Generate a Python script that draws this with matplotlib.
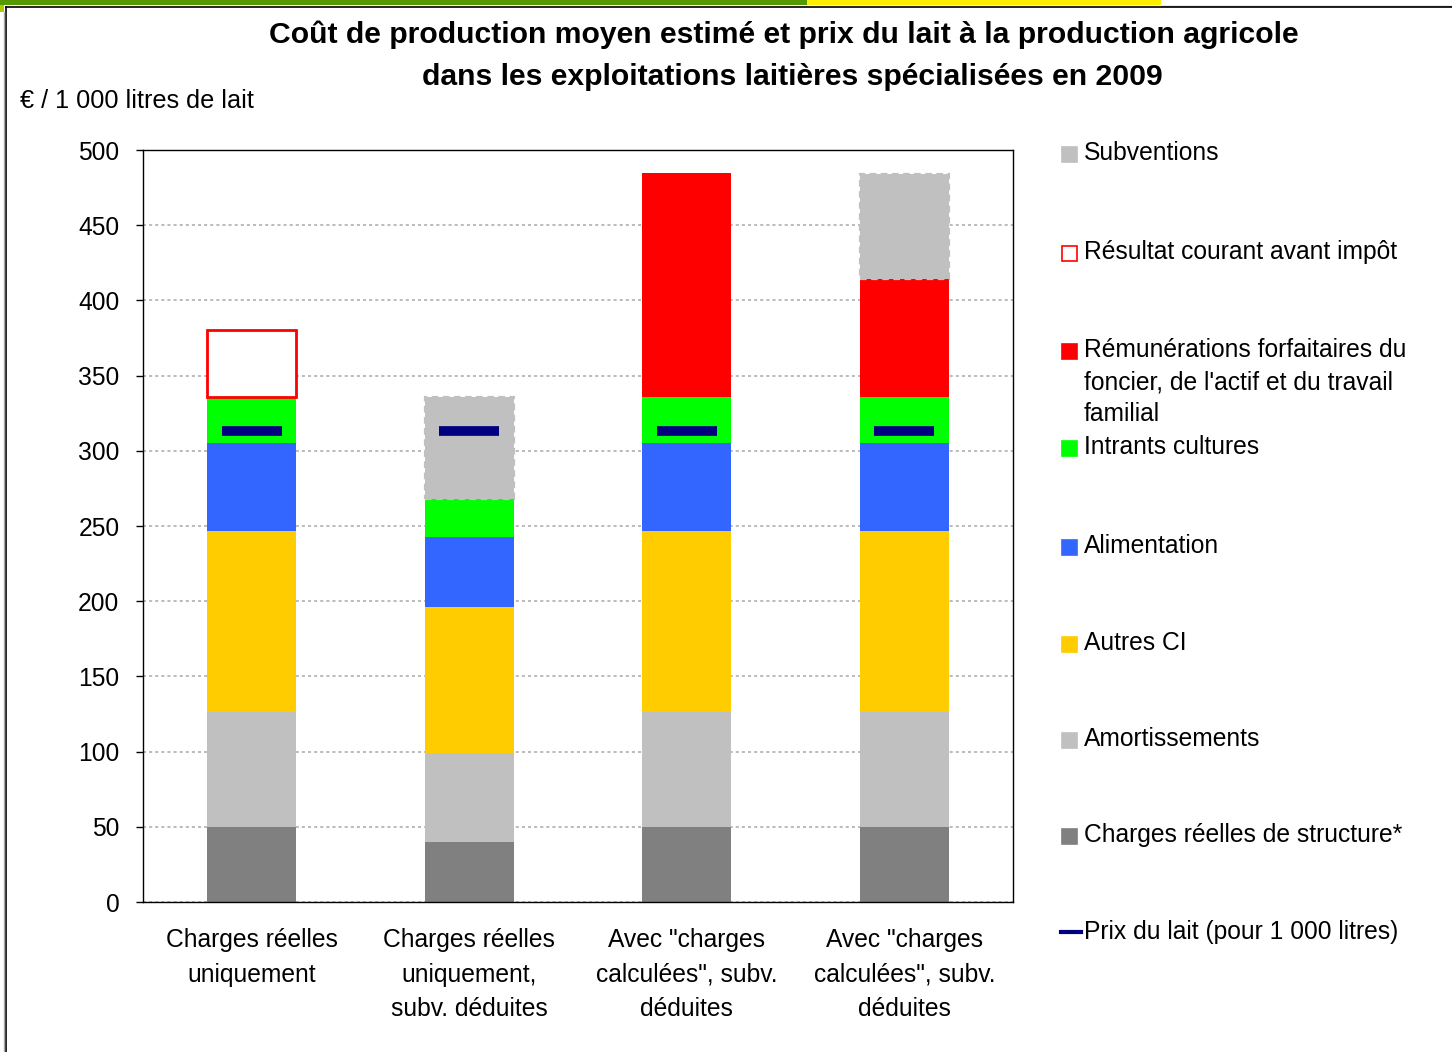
import matplotlib
matplotlib.use('Agg')
import matplotlib.pyplot as plt
from matplotlib.patches import Rectangle
from matplotlib.lines import Line2D
import numpy as np

plt.rcParams['font.family'] = ['Liberation Sans', 'DejaVu Sans']

# ---------------- data ----------------
categories = ['Charges réelles\nuniquement',
              'Charges réelles\nuniquement,\nsubv. déduites',
              'Avec "charges\ncalculées", subv.\ndéduites',
              'Avec "charges\ncalculées", subv.\ndéduites']
charges_structure = [50, 40, 50, 50]
amortissements = [76, 59, 76, 76]
autres_ci = [121, 97, 121, 121]
alimentation = [58, 47, 58, 58]
intrants_cultures = [31, 25, 31, 31]
remunerations = [0, 0, 149, 78]
resultat_courant = [44, 0, 0, 0]
subventions = [0, 68, 0, 70]
prix_lait = [313, 313, 313, 313]
y_ticks = [0, 50, 100, 150, 200, 250, 300, 350, 400, 450, 500]

legend_labels = ['Subventions', 'Résultat courant avant impôt',
                 'Rémunérations forfaitaires du\nfoncier, de l\'actif et du travail\nfamilial',
                 'Intrants cultures', 'Alimentation', 'Autres CI', 'Amortissements',
                 'Charges réelles de structure*', 'Prix du lait (pour 1 000 litres)']

# ---------------- styles ----------------
C_STRUCT = '#808080'
C_AMORT = '#C0C0C0'
C_AUTRES = '#FFCC00'
C_ALIM = '#3366FF'
C_INTR = '#00FF00'
C_REMU = '#FF0000'
C_SUBV = '#C0C0C0'
C_PRIX = '#000080'
FS = 17.7

W, H = 1452, 1052
fig = plt.figure(figsize=(W / 100, H / 100), dpi=100)
fig.patch.set_facecolor('white')

def fx(x):
    return x / W

def fy(y):
    return 1 - y / H

ax = fig.add_axes([fx(143), fy(902), fx(1013) - fx(143), fy(150) - fy(902)])

x = np.arange(len(categories))
bw = 0.41
bottom = np.zeros(len(categories))

layers = [
    (charges_structure, dict(color=C_STRUCT)),
    (amortissements, dict(color=C_AMORT)),
    (autres_ci, dict(color=C_AUTRES)),
    (alimentation, dict(color=C_ALIM)),
    (intrants_cultures, dict(color=C_INTR)),
]
for vals, kw in layers:
    ax.bar(x, vals, bw, bottom=bottom, linewidth=0, zorder=2, **kw)
    bottom = bottom + np.array(vals)

base_top = bottom.copy()
# Résultat courant avant impôt (outlined)
ax.bar(x, resultat_courant, bw, bottom=base_top, facecolor='white',
       edgecolor=[C_REMU if v > 0 else 'none' for v in resultat_courant],
       linewidth=2.0, zorder=3)
# Rémunérations
ax.bar(x, remunerations, bw, bottom=base_top, color=C_REMU, linewidth=0, zorder=2)
top2 = base_top + np.array(remunerations)
# Subventions (dashed border)
sub_bottom = np.where(np.array(remunerations) > 0, top2, base_top)
ax.bar(x, subventions, bw, bottom=sub_bottom, facecolor=C_SUBV,
       edgecolor=[C_SUBV if v > 0 else 'none' for v in subventions],
       linewidth=1.6, linestyle=(0, (3, 2)), zorder=3)

# Prix du lait markers
ax.plot(x, prix_lait, linestyle='none', marker='_', markersize=43,
        markeredgewidth=7, color=C_PRIX, zorder=5)

ax.set_xlim(-0.5, 3.5)
ax.set_ylim(0, 500)
ax.set_yticks(y_ticks)
ax.set_yticklabels([str(t) for t in y_ticks], fontsize=FS)
ax.set_xticks(x)
ax.set_xticklabels(categories, fontsize=FS, linespacing=1.55)
ax.tick_params(axis='y', length=5, width=1, pad=12, direction='out')
ax.tick_params(axis='x', length=0, pad=19)
ax.yaxis.grid(True, linestyle=(0, (2, 2)), color='#A8A8A8', linewidth=1.1, zorder=0)
ax.set_axisbelow(True)
for s in ax.spines.values():
    s.set_linewidth(1.0)
    s.set_color('black')

# ---------------- titles ----------------
fig.text(fx(784), fy(35), 'Coût de production moyen estimé et prix du lait à la production agricole',
         ha='center', va='center', fontsize=21.7, fontweight='bold')
fig.text(fx(792), fy(77), 'dans les exploitations laitières spécialisées en 2009',
         ha='center', va='center', fontsize=21.7, fontweight='bold')
fig.text(fx(20), fy(101), '€ / 1 000 litres de lait', ha='left', va='center', fontsize=18.2)

# ---------------- legend (manual) ----------------
baselines = [160, 259, 357, 454, 553, 650, 746, 842, 939]
leg_faces = [C_SUBV, 'white', C_REMU, C_INTR, C_ALIM, C_AUTRES, C_AMORT, C_STRUCT, None]
leg_edges = [C_SUBV, C_REMU, C_REMU, C_INTR, C_ALIM, C_AUTRES, C_AMORT, C_STRUCT, None]
for lab, b, fc, ec in zip(legend_labels, baselines, leg_faces, leg_edges):
    if fc is None:
        fig.add_artist(Line2D([fx(1061), fx(1081)], [fy(b - 7), fy(b - 7)],
                              color=C_PRIX, linewidth=3, transform=fig.transFigure))
    else:
        fig.add_artist(Rectangle((fx(1062), fy(b + 2)), fx(15), 15 / H,
                                 facecolor=fc, edgecolor=ec, linewidth=1.2,
                                 transform=fig.transFigure))
    for k, line in enumerate(lab.split('\n')):
        fig.text(fx(1084), fy(b + 32 * k), line, ha='left', va='baseline', fontsize=FS)

# ---------------- page frame ----------------
fig.add_artist(Rectangle((0, fy(5)), fx(807), 5 / H, facecolor='#559900',
                         edgecolor='none', transform=fig.transFigure))
fig.add_artist(Rectangle((fx(807), fy(5)), fx(1161) - fx(807), 5 / H, facecolor='#FFEE00',
                         edgecolor='none', transform=fig.transFigure))
fig.add_artist(Rectangle((0, fy(12)), fx(4), 7 / H, facecolor='#AACC00',
                         edgecolor='none', transform=fig.transFigure))
fig.add_artist(Line2D([fx(1161), 1], [fy(5.5), fy(5.5)], color='#999999', linewidth=1,
                      transform=fig.transFigure))
fig.add_artist(Line2D([fx(5.5), 1], [fy(6.5), fy(6.5)], color='black', linewidth=1.2,
                      transform=fig.transFigure))
fig.add_artist(Line2D([fx(5.5), fx(5.5)], [fy(6.5), 0], color='black', linewidth=1.2,
                      transform=fig.transFigure))
fig.add_artist(Line2D([fx(4), fx(4)], [fy(12), 0], color='#AAAAAA', linewidth=1,
                      transform=fig.transFigure))

fig.savefig('out.png', dpi=100)
